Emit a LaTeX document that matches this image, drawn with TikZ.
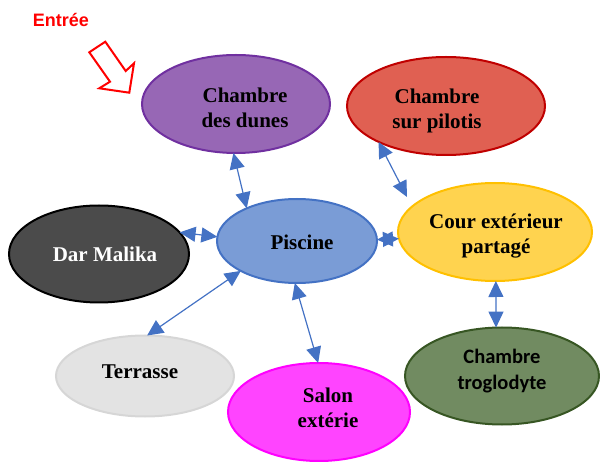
\documentclass[tikz,border=0pt]{standalone}
\usepackage{fontspec}
\setmainfont{Liberation Serif}
\newfontfamily\arialf{Liberation Sans}
\newfontfamily\calibf{Carlito}
\usetikzlibrary{arrows.meta,shapes.geometric}
\definecolor{dunesfill}{HTML}{9767B5}
\definecolor{dunesdraw}{HTML}{7030A0}
\definecolor{pilotisfill}{HTML}{E06052}
\definecolor{pilotisdraw}{HTML}{C00000}
\definecolor{courfill}{HTML}{FFD34F}
\definecolor{courdraw}{HTML}{FFC000}
\definecolor{piscinefill}{HTML}{7A9CD6}
\definecolor{piscinedraw}{HTML}{4472C4}
\definecolor{darfill}{HTML}{4B4B4B}
\definecolor{terrfill}{HTML}{E3E3E3}
\definecolor{terrdraw}{HTML}{D6D6D6}
\definecolor{salonfill}{HTML}{FF44FF}
\definecolor{salondraw}{HTML}{FF00FF}
\definecolor{trogfill}{HTML}{718B61}
\definecolor{trogdraw}{HTML}{375623}
\definecolor{linkblue}{HTML}{4472C4}
\begin{document}
\begin{tikzpicture}[x=1pt,y=-1pt,
  room/.style={ellipse, draw, line width=2pt, inner sep=0pt, outer sep=0pt},
  lbl/.style={anchor=base, align=center, inner sep=0pt, font=\fontsize{21}{25}\selectfont\bfseries},
  sanslbl/.style={anchor=base, align=center, inner sep=0pt, font=\calibf\bfseries\fontsize{20.5}{25.5}\selectfont},
  link/.style={draw=linkblue, line width=1.2pt, {Triangle[length=16pt,width=15pt]}-{Triangle[length=16pt,width=15pt]}}]
\useasboundingbox (0,0) rectangle (600,462);
% rooms
\node[room, fill=dunesfill, draw=dunesdraw, minimum width=188pt, minimum height=98pt] (dunes) at (236,104) {};
\node[room, fill=pilotisfill, draw=pilotisdraw, minimum width=198pt, minimum height=98pt] (pilotis) at (446,106) {};
\node[room, fill=courfill, draw=courdraw, minimum width=194pt, minimum height=98pt] (cour) at (495,232) {};
\node[room, fill=piscinefill, draw=piscinedraw, minimum width=160pt, minimum height=84pt] (piscine) at (297,241) {};
\node[room, fill=darfill, draw=black, minimum width=180pt, minimum height=97pt] (dar) at (99,254) {};
\node[room, fill=terrfill, draw=terrdraw, minimum width=178pt, minimum height=81pt] (terrasse) at (145,376) {};
\node[room, fill=salonfill, draw=salondraw, minimum width=182pt, minimum height=98pt] (salon) at (319,412) {};
\node[room, fill=trogfill, draw=trogdraw, minimum width=194pt, minimum height=97pt] (trog) at (502,376) {};
% labels (base = baseline of the last line)
\node[lbl] (dunes-t) at (245,128) {Chambre\\des dunes};
\node[lbl] (pilotis-t) at (437,128.3) {Chambre\\sur pilotis};
\node[lbl] (cour-t) at (496,253.3) {Cour extérieur\\partagé};
\node[lbl] (piscine-t) at (302,250) {Piscine};
\node[lbl, text=white] (dar-t) at (105,262) {Dar Malika};
\node[lbl] (terrasse-t) at (140,379) {Terrasse};
\node[lbl] (salon-t) at (328,427.7) {Salon\\extérie};
\node[sanslbl] (trog-t) at (502,389) {Chambre\\troglodyte};
% entrance
\node[anchor=base, inner sep=0pt, text=red, font=\arialf\bfseries\fontsize{18}{20}\selectfont] (entree) at (61,27) {Entrée};
\draw[red, line width=2pt, fill=white, line join=miter]
  (89.3,52.3) -- (110,81.7) -- (99.3,88.3) -- (129.3,92.7) -- (134,63.3) -- (125.7,71) -- (105.3,41.7) -- cycle;
% connectors
\coordinate (courend) at (407,197);
\draw[link] (dunes.-93) -- (piscine.147);
\draw[link] (pilotis.208) -- (courend);
\draw[link] (dar.15) -- (piscine.177);
\draw[link] (piscine.1) -- (cour.184);
\draw[link] (piscine.208) -- (terrasse.87);
\draw[link] (piscine.267) -- (salon.91);
\draw[link] (cour.271) -- (trog.97);
\end{tikzpicture}
\end{document}
